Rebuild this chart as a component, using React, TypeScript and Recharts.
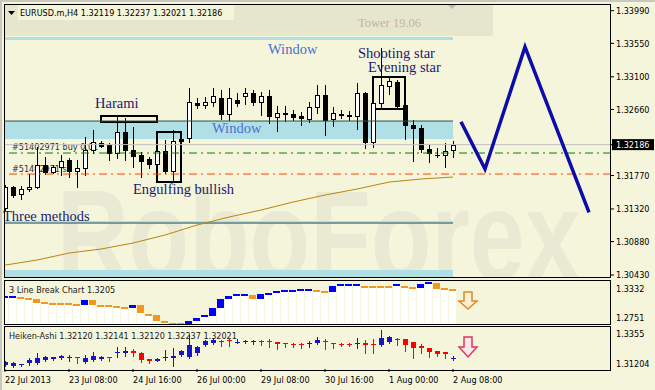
import React from 'react';
import { ComposedChart, Bar, Line, XAxis, YAxis, ReferenceArea, ReferenceLine } from 'recharts';

const BG = '#F5F5DC';
const STRIP = '#E6E6CF';
const BAND = '#B0E0E6';
const AX_FONT = '"DejaVu Sans Condensed", "DejaVu Sans", sans-serif';
const SERIF = '"Liberation Serif", "Times New Roman", serif';
const PAT = '#1A1A70';
const WIN = '#4A70D0';

// ---- main candles (EURUSD H4) ----
const candleOpen = [1.31332, 1.31615, 1.31521, 1.31588, 1.31615, 1.31911, 1.31817, 1.31885, 1.31979, 1.31831, 1.31871, 1.32114, 1.32208, 1.32181, 1.32073, 1.32356, 1.32114, 1.32046, 1.31992, 1.31925, 1.321, 1.31831, 1.32262, 1.32275, 1.32747, 1.3272, 1.3276, 1.32814, 1.32598, 1.32787, 1.32841, 1.32881, 1.3276, 1.32841, 1.32558, 1.32612, 1.32598, 1.32571, 1.32531, 1.32693, 1.32854, 1.32531, 1.32598, 1.32585, 1.32571, 1.32881, 1.32221, 1.32747, 1.32976, 1.3303, 1.3272, 1.3245, 1.3241, 1.32127, 1.32046, 1.32046, 1.32119];
const candleHigh = [1.31642, 1.31629, 1.31629, 1.3179, 1.32154, 1.32019, 1.31911, 1.32046, 1.32006, 1.31979, 1.32289, 1.32383, 1.32235, 1.32208, 1.32558, 1.32545, 1.32423, 1.32087, 1.32019, 1.3214, 1.32248, 1.32383, 1.32289, 1.32949, 1.32814, 1.32827, 1.32949, 1.32922, 1.32949, 1.32881, 1.32949, 1.32922, 1.32895, 1.32922, 1.32706, 1.32706, 1.32652, 1.32625, 1.3276, 1.32989, 1.32989, 1.32693, 1.32652, 1.32639, 1.33016, 1.32895, 1.32787, 1.33487, 1.33083, 1.33056, 1.32733, 1.32518, 1.3245, 1.32181, 1.3214, 1.32208, 1.32237];
const candleLow = [1.31305, 1.3148, 1.31453, 1.31561, 1.31602, 1.3179, 1.31804, 1.31777, 1.3175, 1.31615, 1.31777, 1.32073, 1.32154, 1.31979, 1.32006, 1.31979, 1.31885, 1.3175, 1.31871, 1.31871, 1.31804, 1.3171, 1.32208, 1.32221, 1.32679, 1.32679, 1.32706, 1.32531, 1.32518, 1.32706, 1.32733, 1.3272, 1.32585, 1.32477, 1.32369, 1.32504, 1.32518, 1.3245, 1.32491, 1.32612, 1.32316, 1.32437, 1.32545, 1.32518, 1.32396, 1.3214, 1.32154, 1.32679, 1.32868, 1.32679, 1.32262, 1.31965, 1.32087, 1.31952, 1.32019, 1.31885, 1.32021];
const candleClose = [1.31615, 1.31507, 1.31588, 1.31615, 1.31911, 1.31817, 1.31885, 1.31965, 1.31831, 1.31871, 1.32114, 1.32221, 1.32167, 1.32073, 1.32356, 1.32114, 1.32033, 1.31965, 1.31925, 1.321, 1.31831, 1.32235, 1.32235, 1.3276, 1.3272, 1.3276, 1.32841, 1.32598, 1.32814, 1.32747, 1.32881, 1.3276, 1.32841, 1.32571, 1.32612, 1.32598, 1.32558, 1.32545, 1.32693, 1.32854, 1.32518, 1.32612, 1.32585, 1.32571, 1.32881, 1.32221, 1.32747, 1.32989, 1.33043, 1.32706, 1.3245, 1.3241, 1.32127, 1.32073, 1.3204, 1.321, 1.32186];

// moving average read every 4 bars
const maIndex = [0, 4, 8, 12, 16, 20, 24, 28, 32, 36, 40, 44, 48, 52, 56];
const maValue = [1.30564, 1.30632, 1.30726, 1.3078, 1.30861, 1.30969, 1.31103, 1.31211, 1.31305, 1.31413, 1.31507, 1.31588, 1.31682, 1.31723, 1.3175];

// forecast zig-zag
const forecastIndex = [57, 60, 65, 73];
const forecastValue = [1.32495, 1.31858, 1.33501, 1.31274];

const priceTicks = [1.3399, 1.3355, 1.331, 1.3266, 1.32186, 1.3177, 1.3132, 1.3088, 1.3043];
const lastPrice = 1.32186;
const buyLevel = 1.32073;
const slLevel = 1.3179;

// ---- 3 line break ----
const lbLevel = [1.31601, 1.31601, 1.31403, 1.31206, 1.30415, 1.30415, 1.30316, 1.30316, 1.30316, 1.3002, 1.31008, 1.3002, 1.29921, 1.29823, 1.29625, 1.29427, 1.3002, 1.28439, 1.28044, 1.26858, 1.26661, 1.26305, 1.26305, 1.26858, 1.27453, 1.27846, 1.29427, 1.31206, 1.31798, 1.31996, 1.31996, 1.31206, 1.32194, 1.32194, 1.32589, 1.32786, 1.32826, 1.32885, 1.32984, 1.32786, 1.32589, 1.33774, 1.33972, 1.33972, 1.33972, 1.33577, 1.33577, 1.33577, 1.33577, 1.33972, 1.33577, 1.33379, 1.3417, 1.34367, 1.33182, 1.33083, 1.32984];
const lbTicks = [1.3332, 1.2751];
const LB_MIN = 1.26266;
const LB_MAX = 1.34762;

// ---- Heiken-Ashi ----
const haOpen = [1.31126, 1.31048, 1.31165, 1.31282, 1.31282, 1.31517, 1.31595, 1.31673, 1.31673, 1.31751, 1.3136, 1.31517, 1.31595, 1.31751, 1.32064, 1.32103, 1.32221, 1.32064, 1.31595, 1.31439, 1.31673, 1.31673, 1.31908, 1.31751, 1.32064, 1.3269, 1.32846, 1.33003, 1.33042, 1.32885, 1.32964, 1.32964, 1.33003, 1.32964, 1.32924, 1.32846, 1.32768, 1.32768, 1.32807, 1.32846, 1.33003, 1.32846, 1.32768, 1.32768, 1.32846, 1.32846, 1.32768, 1.3269, 1.32924, 1.33159, 1.33159, 1.32924, 1.32612, 1.32455, 1.32221, 1.32142, 1.31673];
const haHigh = [1.31439, 1.3136, 1.31243, 1.31673, 1.32064, 1.3183, 1.31751, 1.31908, 1.31908, 1.31751, 1.31908, 1.32142, 1.3183, 1.31751, 1.32533, 1.32533, 1.32377, 1.32142, 1.31595, 1.31673, 1.32299, 1.32455, 1.32299, 1.33472, 1.32612, 1.33081, 1.33237, 1.33081, 1.33159, 1.33159, 1.33081, 1.33081, 1.33081, 1.33159, 1.32924, 1.32846, 1.32846, 1.32846, 1.33003, 1.33315, 1.33159, 1.32846, 1.32846, 1.32846, 1.33237, 1.33081, 1.33159, 1.33863, 1.33394, 1.33237, 1.33159, 1.32924, 1.32768, 1.32455, 1.32221, 1.32142, 1.3183];
const haLow = [1.31048, 1.30969, 1.31048, 1.31126, 1.31204, 1.31439, 1.31517, 1.31595, 1.31439, 1.31282, 1.31282, 1.31439, 1.31517, 1.31439, 1.31751, 1.3183, 1.3183, 1.3136, 1.31282, 1.31439, 1.31517, 1.31048, 1.3183, 1.31673, 1.31908, 1.32612, 1.32768, 1.32612, 1.32612, 1.32846, 1.32846, 1.32768, 1.3269, 1.32533, 1.32377, 1.32533, 1.32533, 1.32455, 1.32533, 1.32768, 1.32377, 1.32455, 1.32612, 1.32612, 1.32455, 1.32064, 1.32064, 1.32612, 1.32846, 1.3269, 1.32221, 1.31673, 1.32064, 1.31751, 1.3183, 1.31673, 1.31517];
const haClose = [1.3136, 1.31282, 1.31204, 1.31517, 1.31673, 1.31751, 1.31751, 1.3183, 1.31751, 1.31712, 1.31673, 1.3183, 1.31751, 1.31673, 1.32142, 1.32221, 1.32103, 1.31517, 1.31439, 1.31595, 1.31751, 1.3183, 1.32221, 1.3269, 1.32533, 1.33003, 1.33081, 1.32964, 1.33003, 1.32924, 1.33003, 1.33003, 1.32964, 1.32924, 1.32768, 1.32807, 1.32729, 1.32729, 1.32846, 1.33081, 1.32964, 1.32768, 1.32729, 1.32729, 1.32885, 1.3269, 1.32729, 1.33237, 1.33315, 1.3312, 1.3269, 1.32455, 1.32455, 1.32142, 1.31986, 1.31986, 1.31712];
const haTicks = [1.3355, 1.31204];

const timeTickIndex = [0, 8, 16, 24, 32, 40, 48, 56];
const timeTickLabel = ['22 Jul 2013', '23 Jul 08:00', '24 Jul 16:00', '26 Jul 00:00', '29 Jul 08:00', '30 Jul 16:00', '1 Aug 00:00', '2 Aug 08:00'];

const SLOTS = 76;
const X_DOMAIN: [number, number] = [-0.125, 75.75];

const mainData = Array.from({ length: SLOTS }, (_, i) => {
  const row: any = { i };
  if (i < candleOpen.length) {
    row.o = candleOpen[i];
    row.h = candleHigh[i];
    row.l = candleLow[i];
    row.c = candleClose[i];
    row.range = [candleLow[i], candleHigh[i]];
  }
  const mi = maIndex.indexOf(i);
  if (mi >= 0) row.ma = maValue[mi];
  const fi = forecastIndex.indexOf(i);
  if (fi >= 0) row.fc = forecastValue[fi];
  return row;
});

let lastDir = 1;
const lbData = lbLevel.map((lv, i) => {
  const prev = i === 0 ? lv : lbLevel[i - 1];
  if (lv > prev) lastDir = 1;
  else if (lv < prev) lastDir = -1;
  return { i, lv, prev, dir: lastDir, range: [LB_MIN, lv] };
});

const haData = haOpen.map((o, i) => ({
  i,
  o,
  h: haHigh[i],
  l: haLow[i],
  c: haClose[i],
  range: [haLow[i], haHigh[i]],
}));

const Candle = (p: any) => {
  const { x, y, width, height, payload } = p;
  if (!payload || payload.o == null || !isFinite(y) || !isFinite(height)) return null;
  const top = Math.min(y, y + height);
  const hh = Math.abs(height);
  const { o, h, l, c } = payload;
  const k = h > l ? hh / (h - l) : 0;
  const py = (v: number) => top + (h - v) * k;
  const px = Math.round(x + width / 2);
  const bt = Math.round(py(Math.max(o, c)));
  const bb = Math.round(py(Math.min(o, c)));
  const bull = c > o;
  return (
    <g shapeRendering="crispEdges">
      <line x1={px + 0.5} x2={px + 0.5} y1={Math.round(top)} y2={Math.round(top + hh) + 1} stroke="#000" strokeWidth={1} />
      {bb - bt >= 1 ? (
        <rect x={px - 1.5} y={bt + 0.5} width={4} height={bb - bt} fill={bull ? '#fff' : '#000'} stroke="#000" strokeWidth={1} />
      ) : (
        <line x1={px - 2} x2={px + 3} y1={bt + 0.5} y2={bt + 0.5} stroke="#000" strokeWidth={1} />
      )}
    </g>
  );
};

const HACandle = (p: any) => {
  const { x, y, width, height, payload } = p;
  if (!payload || payload.o == null || !isFinite(y) || !isFinite(height)) return null;
  const top = Math.min(y, y + height);
  const hh = Math.abs(height);
  const { o, h, l, c } = payload;
  const k = h > l ? hh / (h - l) : 0;
  const py = (v: number) => top + (h - v) * k;
  const px = Math.round(x + width / 2);
  const bt = Math.round(py(Math.max(o, c)));
  const bb = Math.round(py(Math.min(o, c)));
  const col = c >= o ? '#1414C8' : '#FF0000';
  return (
    <g shapeRendering="crispEdges">
      <line x1={px + 0.5} x2={px + 0.5} y1={Math.round(top)} y2={Math.round(top + hh) + 1} stroke={col} strokeWidth={1} />
      <rect x={px - 2} y={bt} width={5} height={Math.max(1, bb - bt)} fill={col} />
    </g>
  );
};

const LbShape = (p: any) => {
  const { x, y, width, height, payload } = p;
  if (!payload || payload.lv == null || !isFinite(y) || !isFinite(height)) return null;
  const top = Math.min(y, y + height);
  const hh = Math.abs(height);
  const k = hh / (payload.lv - LB_MIN);
  const py = (v: number) => top + (payload.lv - v) * k;
  const y1 = py(Math.max(payload.lv, payload.prev));
  const y2 = py(Math.min(payload.lv, payload.prev));
  let bt = y1;
  let bh = y2 - y1;
  if (bh < 2) {
    bt = py(payload.lv) - 1;
    bh = 2;
  }
  const col = payload.dir > 0 ? '#0000FF' : '#F5961E';
  return (
    <g shapeRendering="crispEdges">
      <rect x={x} y={top} width={width} height={hh} fill="#FFFFFF" />
      <rect x={x} y={bt} width={width} height={bh} fill={col} />
    </g>
  );
};

const priceTick = (digits: number | null) => (props: any) => {
  const { x, y, payload } = props;
  const v = payload.value as number;
  const txt = digits == null ? String(v) : v.toFixed(digits);
  if (digits != null && Math.abs(v - lastPrice) < 1e-7) {
    return (
      <g>
        <rect x={x - 4} y={y - 5.5} width={42} height={11} fill="#000" />
        <text x={x} y={y + 3.3} fill="#fff" fontSize={9} fontFamily={AX_FONT}>{txt}</text>
      </g>
    );
  }
  return (
    <text x={x} y={y + 3.3} fill="#000" fontSize={9} fontFamily={AX_FONT}>{txt}</text>
  );
};

const timeTick = (props: any) => {
  const { x, y, payload } = props;
  const k = timeTickIndex.indexOf(payload.value);
  return (
    <text x={x} y={y + 9} fill="#000" fontSize={9} fontFamily={AX_FONT}>{k >= 0 ? timeTickLabel[k] : ''}</text>
  );
};

function MainChart() {
  return (
    <ComposedChart width={655} height={280} data={mainData} margin={{ top: 4, right: 0, bottom: 2, left: 4 }}>
      <XAxis type="number" dataKey="i" domain={X_DOMAIN} hide allowDataOverflow />
      <YAxis
        orientation="right"
        type="number"
        domain={[1.3039, 1.3408]}
        allowDataOverflow
        ticks={priceTicks}
        interval={0}
        width={44}
        axisLine={false}
        tickSize={3}
        tickMargin={2}
        tickLine={{ stroke: '#000' }}
        tick={priceTick(5)}
      />
      <ReferenceArea x1={-0.125} x2={56} y1={1.33596} y2={1.33636} fill={BAND} fillOpacity={1} stroke="none" />
      <ReferenceArea x1={-0.125} x2={56} y1={1.32262} y2={1.32504} fill={BAND} fillOpacity={1} stroke="none" />
      <ReferenceArea x1={-0.125} x2={56} y1={1.3113} y2={1.31157} fill={BAND} fillOpacity={1} stroke="none" />
      <ReferenceArea x1={-0.125} x2={56} y1={1.3039} y2={1.30497} fill={BAND} fillOpacity={1} stroke="none" />
      <ReferenceLine segment={[{ x: -0.125, y: 1.32504 }, { x: 56, y: 1.32504 }]} stroke="#2F4F4F" strokeWidth={1} />
      <ReferenceLine segment={[{ x: -0.125, y: 1.3113 }, { x: 56, y: 1.3113 }]} stroke="#2F4F4F" strokeWidth={1} />
      <ReferenceLine y={lastPrice} stroke="#C0C0C0" strokeWidth={1} />
      <ReferenceLine y={buyLevel} stroke="#008000" strokeWidth={1} strokeDasharray="8 4 2 4" />
      <ReferenceLine y={slLevel} stroke="#FF4500" strokeWidth={1} strokeDasharray="8 4 2 4" />
      <Line dataKey="ma" stroke="#B8860B" strokeWidth={1} dot={false} connectNulls isAnimationActive={false} />
      <Bar dataKey="range" barSize={5} shape={Candle} isAnimationActive={false} />
      <Line dataKey="fc" stroke="#0C0CA8" strokeWidth={3.5} strokeLinejoin="miter" dot={false} connectNulls isAnimationActive={false} />
      <ReferenceArea x1={12} x2={19} y1={1.32491} y2={1.32571} fill="none" fillOpacity={0} stroke="#000" strokeWidth={2} />
      <ReferenceArea x1={19} x2={22} y1={1.31683} y2={1.32356} fill="none" fillOpacity={0} stroke="#000" strokeWidth={2} />
      <ReferenceArea x1={46} x2={50} y1={1.32666} y2={1.33097} fill="none" fillOpacity={0} stroke="#000" strokeWidth={2} />
    </ComposedChart>
  );
}

function LbChart() {
  return (
    <ComposedChart width={655} height={45} data={lbData} margin={{ top: 1, right: 0, bottom: 1, left: 4 }}>
      <XAxis type="number" dataKey="i" domain={X_DOMAIN} hide allowDataOverflow />
      <YAxis
        orientation="right"
        type="number"
        domain={[LB_MIN, LB_MAX]}
        allowDataOverflow
        ticks={lbTicks}
        interval={0}
        width={44}
        axisLine={false}
        tickLine={false}
        tickSize={3}
        tickMargin={2}
        tick={priceTick(null)}
      />
      <Bar dataKey="range" barSize={8} shape={LbShape} isAnimationActive={false} />
    </ComposedChart>
  );
}

function HaChart() {
  return (
    <ComposedChart width={655} height={64} data={haData} margin={{ top: 1, right: 0, bottom: 0, left: 4 }}>
      <XAxis
        type="number"
        dataKey="i"
        domain={X_DOMAIN}
        allowDataOverflow
        ticks={timeTickIndex}
        interval={0}
        height={21}
        axisLine={false}
        tickSize={3}
        tickMargin={2}
        tickLine={{ stroke: '#000' }}
        tick={timeTick}
      />
      <YAxis
        orientation="right"
        type="number"
        domain={[1.30813, 1.34097]}
        allowDataOverflow
        ticks={haTicks}
        interval={0}
        width={44}
        axisLine={false}
        tickLine={false}
        tickSize={3}
        tickMargin={2}
        tick={priceTick(null)}
      />
      <Bar dataKey="range" barSize={5} shape={HACandle} isAnimationActive={false} />
    </ComposedChart>
  );
}

const frame = (top: number, height: number): React.CSSProperties => ({
  position: 'absolute',
  left: 4,
  top,
  width: 607,
  height,
  border: '1px solid #000',
  boxSizing: 'border-box',
  pointerEvents: 'none',
});

export default function App() {
  const small = { fontFamily: AX_FONT, fontSize: 9 };
  const serif = { fontFamily: SERIF, fontSize: 14.5 };
  return (
    <div style={{ position: 'absolute', left: 0, top: 0, width: 655, height: 390, background: BG, overflow: 'hidden' }}>
      <svg style={{ position: 'absolute', left: 0, top: 0 }} width={655} height={390}>
        <defs>
          <clipPath id="wmclip">
            <rect x={5} y={37} width={605} height={240} />
          </clipPath>
        </defs>
        <rect x={5} y={5} width={488} height={31} fill={STRIP} />
        <rect x={18} y={5} width={216} height={15} fill={BG} />
        <polygon points="8,11 15,11 11.5,15" fill="#000" />
        <text x={20} y={16} fill="#000" {...small}>EURUSD.m,H4  1.32119 1.32237 1.32021 1.32186</text>
        <text x={358} y={27} fill="#C4B496" fontFamily={SERIF} fontSize={12.5}>Tower 19.06</text>
        <polygon points="448,5 456,5 452,9" fill="#B8B8B8" />
        <text x={57} y={280} fontFamily='"Liberation Sans", Arial, sans-serif' fontWeight="bold" fontSize={128} fill="#EAEAD4" textLength={523} lengthAdjust="spacingAndGlyphs" clipPath="url(#wmclip)">RoboForex</text>
        <text x={12} y={150} fill="#303030" {...small}>#51402971 buy 0.01</text>
        <text x={12} y={171.5} fill="#303030" {...small}>#51402971 sl</text>
        <rect x={0} y={0} width={655} height={2} fill="#C8C8BE" />
        <rect x={0} y={0} width={2} height={390} fill="#C8C8BE" />
      </svg>
      <div style={{ position: 'absolute', left: 0, top: 0 }}><MainChart /></div>
      <div style={{ position: 'absolute', left: 0, top: 280 }}><LbChart /></div>
      <div style={{ position: 'absolute', left: 0, top: 326 }}><HaChart /></div>
      <div style={frame(4, 274)} />
      <div style={frame(280, 45)} />
      <div style={frame(326, 45)} />
      <svg style={{ position: 'absolute', left: 0, top: 0, pointerEvents: 'none' }} width={655} height={390}>
        <text x={268} y={54} fill={WIN} {...serif}>Window</text>
        <text x={212} y={133} fill={WIN} {...serif}>Window</text>
        <text x={95} y={108} fill={PAT} {...serif}>Harami</text>
        <text x={358} y={58} fill={PAT} {...serif}>Shooting star</text>
        <text x={368} y={72} fill={PAT} {...serif}>Evening star</text>
        <text x={133} y={194} fill={PAT} {...serif}>Engulfing bullish</text>
        <text x={3} y={221} fill={PAT} {...serif}>Three methods</text>
        <text x={9} y={292.5} fill="#202020" {...small}>3 Line Break Chart 1.3205</text>
        <text x={9} y={339} fill="#202020" {...small}>Heiken-Ashi 1.32120 1.32141 1.32120 1.32237 1.32021</text>
        <polygon points="464,292 472,292 472,301 477,301 468,309 459,301 464,301" fill="#FBEFD8" stroke="#E08A28" strokeWidth={1.5} />
        <polygon points="464,337 472,337 472,347 477,347 468,357 459,347 464,347" fill="#FBE6EA" stroke="#E0365E" strokeWidth={1.5} />
      </svg>
    </div>
  );
}
